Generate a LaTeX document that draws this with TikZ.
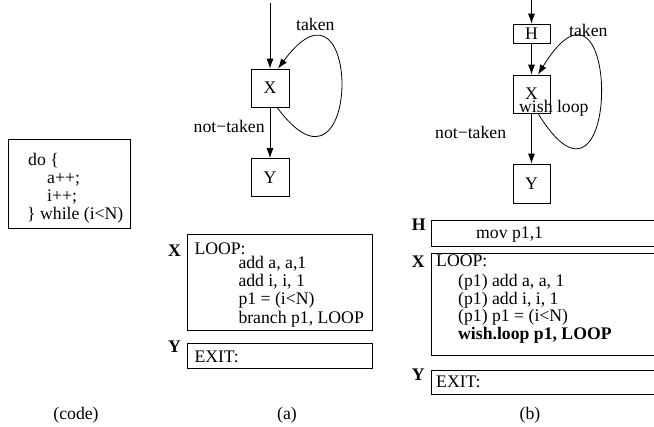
\documentclass[tikz,border=0pt]{standalone}
\usepackage{fontspec}
\setmainfont{Liberation Serif}
\usetikzlibrary{arrows.meta,positioning,calc}
\tikzset{>={Latex[length=10pt,width=7pt]}}
\newcommand{\diafont}{\fontsize{17.7}{18}\selectfont}
\tikzset{
  blk/.style={draw,rectangle,inner sep=0pt,minimum width=38pt,minimum height=38pt,line width=0.7pt},
  listbox/.style={draw,rectangle,inner sep=0pt,anchor=north west,line width=0.7pt},
  asm/.style={anchor=base west,inner sep=0pt},
  tag/.style={anchor=base west,inner sep=0pt,font=\diafont\bfseries},
  subcap/.style={anchor=base,inner sep=0pt},
  flow/.style={->,line width=0.8pt}
}

\begin{document}
\begin{tikzpicture}[x=1pt,y=-1pt,font=\diafont]
\useasboundingbox (0,0) rectangle (654,427);
\clip (0,0) rectangle (654,427);

%% source code
\node[listbox,minimum width=122pt,minimum height=89pt] (src) at (8,139) {};
\foreach \txt/\xx/\yy [count=\i] in {{do \{}/28/166,{a++;}/47/184,{i++;}/47/202,{\} while (i<N)}/27/220}
  \node[asm] (src\i) at (\xx,\yy) {\txt};
\node[subcap] (capsrc) at (76,420) {(code)};

%% (a) branch
\node[blk] (xa) at (270,88) {X};
\node[blk] (ya) at (270,177.5) {Y};
\coordinate (ina) at (270,3);
\draw[flow] (ina) -- (xa);
\draw[flow] (xa) -- node[anchor=base east,inner sep=0pt,xshift=-5pt] (nta) {not−taken} (ya);
\draw[flow] ([xshift=7pt]xa.south) .. controls +(85,115) and +(85,-115) .. ([xshift=8pt]xa.north);
\node[asm] (tka) at (296,30.5) {taken};

\node[listbox,minimum width=185pt,minimum height=96pt] (loopa) at (187,234) {};
\node[tag] (tagxa) at (168,257) {X};
\node[asm] (lpa) at (194.3,255) {LOOP:};
\foreach \txt/\yy [count=\i] in {{add a, a,1}/268.3,{add i, i, 1}/286.7,{p1 = (i<N)}/305,{branch p1, LOOP}/323.3}
  \node[asm] (insa\i) at (238.3,\yy) {\txt};
\node[listbox,minimum width=185pt,minimum height=25pt] (exita) at (187,343) {};
\node[tag] (tagya) at (168,353) {Y};
\node[asm] (exa) at (194.3,363) {EXIT:};
\node[subcap] (capa) at (287,420) {(a)};

%% (b) wish loop
\node[blk,minimum width=37pt,minimum height=19pt] (hb) at (531.5,33.5) {H};
\node[blk,minimum width=37pt] (xb) at (531.5,94) {X};
\node[blk,minimum width=37pt,minimum height=39pt] (yb) at (531.5,183.5) {Y};
\coordinate (inb) at (531.5,0);
\draw[flow] (inb) -- (hb);
\draw[flow] (hb) -- (xb);
\draw[flow] (xb) -- node[anchor=base east,inner sep=0pt,xshift=-25pt] (ntb) {not−taken} (yb);
\draw[flow] ([xshift=6.5pt]xb.south) .. controls +(84,137) and +(84,-137) .. ([xshift=6.5pt]xb.north);
\node[asm] (tkb) at (569,36.5) {taken};
\node[asm] (wlb) at (519,113) {wish loop};

\node[listbox,minimum width=240pt,minimum height=26pt] (hdrb) at (430.5,220.5) {};
\node[tag] (taghb) at (411.7,231) {H};
\node[asm] (movb) at (476,239) {mov p1,1};
\node[listbox,minimum width=240pt,minimum height=102.5pt] (loopb) at (430.5,253) {};
\node[tag] (tagxb) at (411.7,268) {X};
\node[asm] (lpb) at (436,266.5) {LOOP:};
\foreach \txt/\yy [count=\i] in {{(p1) add a, a, 1}/287,{(p1) add i, i, 1}/304.5,{(p1) p1 = (i<N)}/322,{\textbf{wish.loop p1, LOOP}}/339.5}
  \node[asm] (insb\i) at (458,\yy) {\txt};
\node[listbox,minimum width=240pt,minimum height=24pt] (exitb) at (430.5,370) {};
\node[tag] (tagyb) at (411.7,381) {Y};
\node[asm] (exb) at (436,388) {EXIT:};
\node[subcap] (capb) at (530,420) {(b)};
\end{tikzpicture}
\end{document}
